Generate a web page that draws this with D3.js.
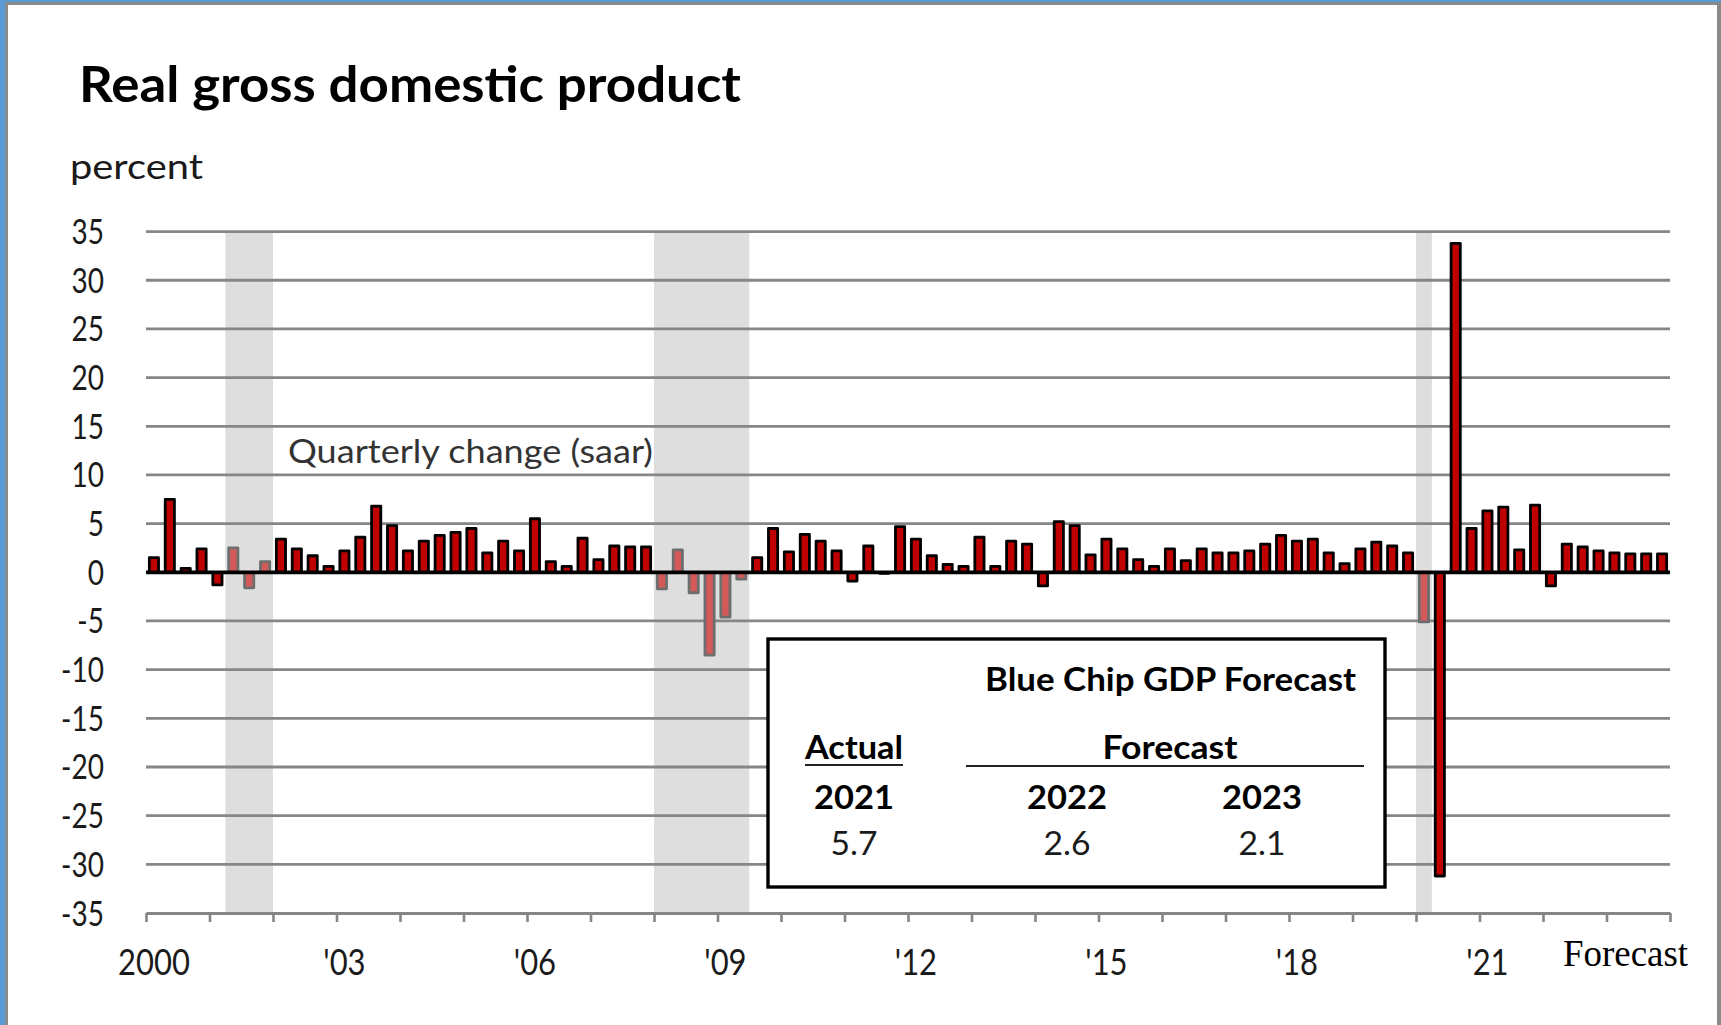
<!DOCTYPE html>
<html>
<head>
<meta charset="utf-8">
<title>Real gross domestic product</title>
<script src="https://cdn.jsdelivr.net/npm/d3@7"></script>
<style>
  html, body { margin: 0; padding: 0; background: #ffffff; }
  svg { display: block; font-family: Lato, "Open Sans", "Noto Sans", sans-serif; }
</style>
</head>
<body>
<svg id="chart" width="1721" height="1025"></svg>
<script>
// Quarterly real GDP growth, percent change at a seasonally adjusted annual rate
const years = d3.range(2000, 2024);
const quarters = ["Q1", "Q2", "Q3", "Q4"];
const gdpGrowth = [
  1.5, 7.5, 0.4, 2.4,     // 2000
  -1.3, 2.5, -1.6, 1.1,   // 2001
  3.4, 2.4, 1.7, 0.6,     // 2002
  2.2, 3.6, 6.8, 4.8,     // 2003
  2.2, 3.2, 3.8, 4.1,     // 2004
  4.5, 2.0, 3.2, 2.2,     // 2005
  5.5, 1.1, 0.6, 3.5,     // 2006
  1.3, 2.7, 2.6, 2.6,     // 2007
  -1.7, 2.3, -2.1, -8.5,  // 2008
  -4.6, -0.7, 1.5, 4.5,   // 2009
  2.1, 3.9, 3.2, 2.2,     // 2010
  -0.9, 2.7, -0.1, 4.7,   // 2011
  3.4, 1.7, 0.8, 0.6,     // 2012
  3.6, 0.6, 3.2, 2.9,     // 2013
  -1.4, 5.2, 4.8, 1.8,    // 2014
  3.4, 2.4, 1.3, 0.6,     // 2015
  2.4, 1.2, 2.4, 2.0,     // 2016
  2.0, 2.2, 2.9, 3.8,     // 2017
  3.2, 3.4, 2.0, 0.9,     // 2018
  2.4, 3.1, 2.7, 2.0,     // 2019
  -5.1, -31.2, 33.8, 4.5, // 2020
  6.3, 6.7, 2.3, 6.9,     // 2021
  -1.4, 2.9, 2.6, 2.2,    // 2022 (forecast after Q1)
  2.0, 1.9, 1.9, 1.9      // 2023 (forecast)
];
// NBER recessions, first and last quarter
const recessions = [["2001Q2", "2001Q4"], ["2008Q1", "2009Q2"], ["2020Q1", "2020Q1"]];
const yTicks = [35, 30, 25, 20, 15, 10, 5, 0, -5, -10, -15, -20, -25, -30, -35];
const yearTicks = d3.range(2000, 2025);
const labelYears = [2000, 2003, 2006, 2009, 2012, 2015, 2018, 2021];
const labelText = ["2000", "'03", "'06", "'09", "'12", "'15", "'18", "'21"];
// Blue Chip consensus table
const tableYears = ["2021", "2022", "2023"];
const tableValues = ["5.7", "2.6", "2.1"];

const categories = years.flatMap(yr => quarters.map(q => yr + q));
const data = categories.map((c, i) => ({ key: c, value: gdpGrowth[i] }));

const svg = d3.select("#chart");
const plotLeft = 146, plotRight = 1670, plotTop = 231.6, plotBottom = 913;

const pad = 0.42;
const x = d3.scaleBand().domain(categories).range([plotLeft, plotRight])
  .paddingInner(pad).paddingOuter(pad / 2);
const y = d3.scaleLinear().domain([-35, 35]).range([plotBottom, plotTop]);
const xYear = d3.scaleLinear().domain([2000, 2024]).range([plotLeft, plotRight]);

const stepStart = k => x(k) - x.step() * pad / 2;
const inRecession = k => recessions.some(([a, b]) => k >= a && k <= b);
const sans = "Lato, 'Open Sans', 'Noto Sans', sans-serif";

// frame
svg.append("rect").attr("x", 0).attr("y", 0).attr("width", 1721).attr("height", 1025).attr("fill", "#ffffff");
svg.append("rect").attr("x", 0).attr("y", 0).attr("width", 5).attr("height", 1025).attr("fill", "#5b9bd5");
svg.append("rect").attr("x", 0).attr("y", 0).attr("width", 1721).attr("height", 2).attr("fill", "#5b9bd5");
svg.append("rect").attr("x", 5).attr("y", 2).attr("width", 3).attr("height", 1023).attr("fill", "#8a8a8a");
svg.append("rect").attr("x", 5).attr("y", 2).attr("width", 1716).attr("height", 3).attr("fill", "#8a8a8a");
svg.append("rect").attr("x", 1717).attr("y", 2).attr("width", 4).attr("height", 1023).attr("fill", "#8a8a8a");

// recession shading
svg.append("g").selectAll("rect").data(recessions).join("rect")
  .attr("x", d => stepStart(d[0]))
  .attr("width", d => stepStart(d[1]) + x.step() - stepStart(d[0]))
  .attr("y", plotTop).attr("height", plotBottom - plotTop)
  .attr("fill", "#dedede");

// horizontal gridlines
svg.append("g").selectAll("line").data(yTicks.filter(v => v !== 0 && v !== -35)).join("line")
  .attr("x1", plotLeft).attr("x2", plotRight)
  .attr("y1", d => y(d)).attr("y2", d => y(d))
  .attr("stroke", "#868686").attr("stroke-width", 2.8);

// bottom axis with yearly tick marks
const xAxis = svg.append("g").attr("transform", `translate(0,${plotBottom})`)
  .call(d3.axisBottom(xYear).tickValues(yearTicks).tickFormat("").tickSize(9).tickSizeOuter(0));
xAxis.select(".domain").attr("stroke", "#868686").attr("stroke-width", 2.8);
xAxis.selectAll(".tick line").attr("stroke", "#868686").attr("stroke-width", 2.6);

// year labels, centred under the first quarter of the year
const yearLabels = svg.append("g").selectAll("text").data(labelYears).join("text")
  .attr("x", d => x(d + "Q1") + x.bandwidth() / 2)
  .attr("y", 975)
  .attr("text-anchor", "middle")
  .style("font-family", sans)
  .attr("font-size", 36)
  .attr("fill", "#1a1a1a")
  .text((d, i) => labelText[i]);
yearLabels.each(function () { const n = this.getComputedTextLength(); d3.select(this).attr("textLength", n * 0.86).attr("lengthAdjust", "spacingAndGlyphs"); });

// left axis labels
const yAxis = svg.append("g").attr("transform", `translate(${plotLeft},0)`)
  .call(d3.axisLeft(y).tickValues(yTicks).tickSize(0).tickPadding(42).tickFormat(d => String(d)));
yAxis.select(".domain").remove();
yAxis.selectAll("text")
  .style("font-family", sans)
  .attr("font-size", 35).attr("fill", "#1a1a1a").attr("dy", 12);
yAxis.selectAll("text").each(function () { const n = this.getComputedTextLength(); d3.select(this).attr("textLength", n * 0.8).attr("lengthAdjust", "spacingAndGlyphs"); });

// bars
svg.append("g").selectAll("rect").data(data).join("rect")
  .attr("x", d => x(d.key))
  .attr("width", x.bandwidth())
  .attr("y", d => y(Math.max(0, d.value)))
  .attr("height", d => Math.abs(y(d.value) - y(0)))
  .attr("fill", d => inRecession(d.key) ? "#d45a5a" : "#c00000")
  .attr("stroke", d => inRecession(d.key) ? "#6e6e6e" : "#000000")
  .attr("stroke-width", 2.8)
  .attr("stroke-linejoin", "round");

// zero line
svg.append("line").attr("x1", plotLeft).attr("x2", plotRight)
  .attr("y1", y(0)).attr("y2", y(0))
  .attr("stroke", "#000000").attr("stroke-width", 3.8);

// titles
function fit(sel, w) { sel.attr("textLength", w).attr("lengthAdjust", "spacingAndGlyphs"); return sel; }
fit(svg.append("text").attr("x", 79).attr("y", 102)
  .style("font-family", sans)
  .attr("font-size", 49).attr("font-weight", 700).attr("fill", "#000")
  .text("Real gross domestic product"), 662);
fit(svg.append("text").attr("x", 70).attr("y", 179)
  .style("font-family", sans)
  .attr("font-size", 34).attr("fill", "#1a1a1a").text("percent"), 133);
fit(svg.append("text").attr("x", 288).attr("y", 463)
  .style("font-family", sans)
  .attr("font-size", 33).attr("fill", "#333333").text("Quarterly change (saar)"), 365);

// forecast marker on the axis
fit(svg.append("text").attr("x", 1563).attr("y", 966)
  .style("font-family", "'Liberation Serif', 'DejaVu Serif', 'Times New Roman', serif")
  .attr("font-size", 37).attr("fill", "#000").text("Forecast"), 125);

// Blue Chip forecast table
const box = svg.append("g").style("font-family", sans);
box.append("rect").attr("x", 768).attr("y", 639).attr("width", 617).attr("height", 248)
  .attr("fill", "#ffffff").attr("stroke", "#000").attr("stroke-width", 3.4);
fit(box.append("text").attr("x", 985).attr("y", 691)
  .attr("font-size", 33).attr("font-weight", 700).text("Blue Chip GDP Forecast"), 371);
const colX = [854, 1067, 1262];
fit(box.append("text").attr("x", colX[0]).attr("y", 759).attr("text-anchor", "middle")
  .attr("font-size", 33).attr("font-weight", 700).text("Actual"), 98);
box.append("line").attr("x1", 805).attr("x2", 903).attr("y1", 765).attr("y2", 765)
  .attr("stroke", "#222").attr("stroke-width", 2);
fit(box.append("text").attr("x", 1170).attr("y", 759).attr("text-anchor", "middle")
  .attr("font-size", 33).attr("font-weight", 700).text("Forecast"), 135);
box.append("line").attr("x1", 966).attr("x2", 1364).attr("y1", 766).attr("y2", 766)
  .attr("stroke", "#222").attr("stroke-width", 2);
box.selectAll("text.yr").data(tableYears).join("text").attr("class", "yr")
  .attr("x", (d, i) => colX[i]).attr("y", 809).attr("text-anchor", "middle")
  .attr("font-size", 33).attr("font-weight", 700).text(d => d)
  .attr("textLength", 80).attr("lengthAdjust", "spacingAndGlyphs");
box.selectAll("text.val").data(tableValues).join("text").attr("class", "val")
  .attr("x", (d, i) => colX[i]).attr("y", 855).attr("text-anchor", "middle")
  .attr("font-size", 33).attr("fill", "#1a1a1a").text(d => d)
  .attr("textLength", 47).attr("lengthAdjust", "spacingAndGlyphs");
</script>
</body>
</html>
